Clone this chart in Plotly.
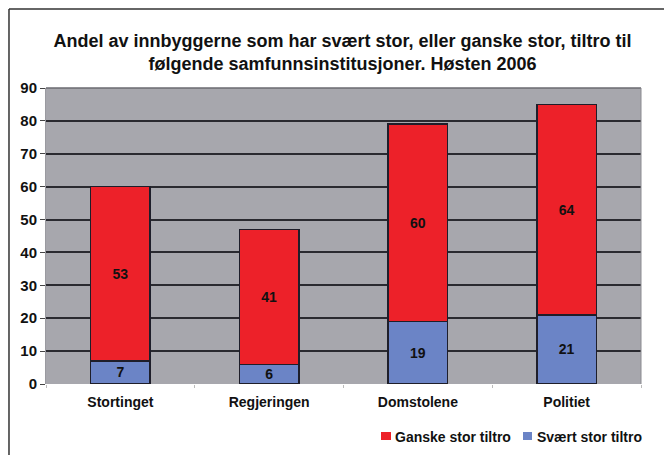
import plotly.graph_objects as go

categories = ["Stortinget", "Regjeringen", "Domstolene", "Politiet"]
svaert_stor = [7, 6, 19, 21]
ganske_stor = [53, 41, 60, 64]
y_ticks = [0, 10, 20, 30, 40, 50, 60, 70, 80, 90]
legend_labels = ["Ganske stor tiltro", "Svært stor tiltro"]

FONT = "Liberation Sans, Arial, sans-serif"
RED = "#ed2129"
BLUE = "#6b84c6"

fig = go.Figure()
fig.add_trace(go.Bar(
    x=categories, y=svaert_stor, name=legend_labels[1],
    marker=dict(color=BLUE, line=dict(color="#1e1e2a", width=1.5)),
    text=svaert_stor, textposition="inside", insidetextanchor="middle", textangle=0,
    constraintext="none",
    textfont=dict(family=FONT, size=14, color="#111111", weight="bold"),
))
fig.add_trace(go.Bar(
    x=categories, y=ganske_stor, name=legend_labels[0],
    marker=dict(color=RED, line=dict(color="#1e1e2a", width=1.5)),
    text=ganske_stor, textposition="inside", insidetextanchor="middle", textangle=0,
    constraintext="none",
    textfont=dict(family=FONT, size=14, color="#111111", weight="bold"),
))

# legend drawn as squares + text labels
legend_items = [
    (legend_labels[0], RED, 0.5630, 0.5798, 0.5849),
    (legend_labels[1], BLUE, 0.8017, 0.8168, 0.8235),
]
shapes = [
    dict(type="line", xref="paper", yref="paper", x0=-0.0622, x1=-0.0622, y0=-0.35, y1=1.2669,
         line=dict(color="#333333", width=1.5)),
    dict(type="line", xref="paper", yref="paper", x0=-0.0622, x1=1.08, y0=1.2669, y1=1.2669,
         line=dict(color="#333333", width=1.5)),
    dict(type="line", xref="paper", yref="paper", x0=0, x1=1, y0=1, y1=1,
         line=dict(color="#6a6a70", width=1.5)),
    dict(type="line", xref="paper", yref="paper", x0=1, x1=1, y0=0, y1=1,
         line=dict(color="#8a8a90", width=1)),
]
annotations = []
for label, color, sx0, sx1, tx in legend_items:
    shapes.append(dict(type="rect", xref="paper", yref="paper", x0=sx0, x1=sx1,
                       y0=-0.1892, y1=-0.1622, fillcolor=color, line=dict(width=0)))
    annotations.append(dict(text=label, xref="paper", yref="paper", x=tx, y=-0.1791,
                            xanchor="left", yanchor="middle", showarrow=False, borderpad=0,
                            font=dict(family=FONT, size=14, color="#111111", weight="bold")))

fig.update_layout(
    width=664, height=447,
    barmode="stack", bargap=0.6, showlegend=False,
    paper_bgcolor="white", plot_bgcolor="#a7a7ad",
    margin=dict(l=38, r=31, t=80, b=71, autoexpand=False),
    font=dict(family=FONT, size=14, color="#1a1a1a"),
    title=dict(
        text="Andel av innbyggerne som har svært stor, eller ganske stor, tiltro til<br>følgende samfunnsinstitusjoner. Høsten 2006",
        x=0.5038, xref="container", xanchor="center", y=0.9128, yref="container", yanchor="middle",
        font=dict(family=FONT, size=18, color="#111111", weight="bold"),
    ),
    xaxis=dict(
        automargin=False,
        showgrid=False, showline=False, ticks="outside", tickson="boundaries",
        ticklen=3, tickcolor="#bbbbbb", ticklabelstandoff=8,
        tickfont=dict(family=FONT, size=14, color="#111111", weight="bold"),
    ),
    yaxis=dict(
        automargin=False,
        range=[0, 90], tickvals=y_ticks, showgrid=True, gridcolor="#2a2a30", gridwidth=1.5,
        zeroline=False, showline=True, linecolor="#9a9aa0", linewidth=1,
        ticks="outside", ticklen=5, tickcolor="#444444",
        tickfont=dict(family=FONT, size=15, color="#111111", weight="bold"),
    ),
    shapes=shapes,
    annotations=annotations,
)

fig.write_html("out.html")
